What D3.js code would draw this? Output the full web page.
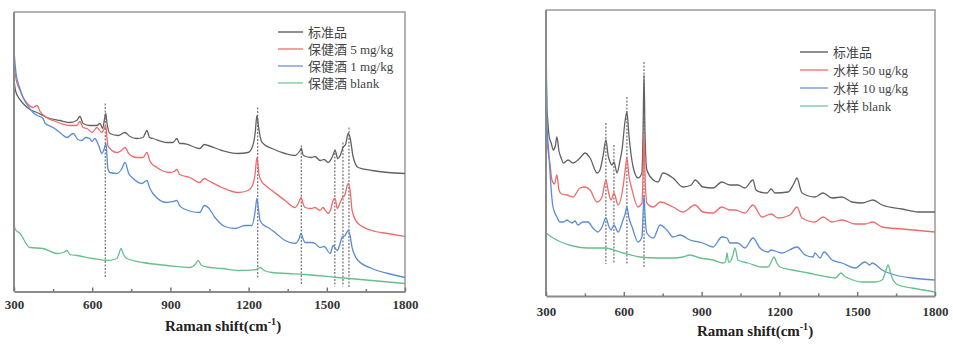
<!DOCTYPE html>
<html><head><meta charset="utf-8">
<script src="https://cdn.jsdelivr.net/npm/d3@7"></script>
<style>
body{margin:0;background:#fff;}
svg{display:block;}
</style></head>
<body>
<svg id="chart" width="953" height="345"></svg>
<script>
// ---------- DATA (Raman shift cm-1, intensity a.u.) ----------
const leftStd = [[300,213],[303,205],[308,199],[315,195],[335,188],[361,182],[388,179],[427,174],[476,171],[515,169],[540,171],[553,175],[565,168],[590,166],[618,166],[630,168],[640,163],[647,172],[652,178],[657,168],[668,158],[700,156],[725,159],[745,155],[771,153],[795,154],[810,161],[820,154],[833,153],[887,149],[910,149],[925,153],[935,148],[949,148],[1013,143],[1030,147],[1045,146],[1098,141],[1159,138],[1198,139],[1215,145],[1225,158],[1232,176],[1238,165],[1248,151],[1260,147],[1290,143],[1340,138],[1378,136],[1395,140],[1402,143],[1410,136],[1440,134],[1455,135],[1474,131],[1490,132],[1505,129],[1520,134],[1532,141],[1542,133],[1553,137],[1562,144],[1572,147],[1582,158],[1590,153],[1600,136],[1620,124],[1673,121],[1735,119],[1800,118]];
const left5 = [[300,230],[304,220],[308,212],[320,203],[335,194],[355,187],[373,184],[388,186],[400,180],[425,174],[450,171],[480,168],[515,166],[540,166],[553,170],[565,164],[580,163],[600,159],[618,164],[637,159],[645,162],[652,166],[660,146],[668,143],[695,139],[712,141],[726,144],[740,138],[771,134],[795,134],[810,139],[822,130],[848,124],[898,119],[915,120],[925,122],[935,117],[975,114],[1013,109],[1030,113],[1045,111],[1098,104],[1159,99],[1198,101],[1215,106],[1225,118],[1232,134],[1240,117],[1250,110],[1265,106],[1290,101],[1340,91],[1378,84],[1394,90],[1401,94],[1410,87],[1416,84],[1440,83],[1455,84],[1474,81],[1485,84],[1505,78],[1515,82],[1524,91],[1532,93],[1540,83],[1550,88],[1558,93],[1570,97],[1582,108],[1590,100],[1597,81],[1620,68],[1673,61],[1735,58],[1800,55]];
const left1 = [[300,241],[304,228],[308,218],[320,205],[335,194],[355,185],[373,179],[390,176],[411,173],[420,168],[450,164],[480,158],[503,154],[527,158],[545,152],[560,151],[575,154],[590,153],[600,150],[610,153],[625,146],[637,138],[645,142],[653,148],[660,123],[668,119],[695,118],[712,122],[726,129],[740,118],[757,113],[790,108],[810,111],[820,104],[833,98],[886,89],[910,90],[925,91],[935,86],[949,83],[1013,79],[1030,86],[1045,84],[1071,74],[1109,65],[1148,63],[1186,66],[1213,66],[1225,80],[1232,93],[1238,82],[1244,71],[1260,66],[1275,64],[1301,59],[1340,51],[1378,48],[1394,53],[1401,58],[1410,52],[1416,49],[1440,49],[1455,48],[1474,44],[1490,45],[1513,38],[1524,46],[1530,44],[1540,41],[1550,47],[1558,54],[1570,56],[1582,61],[1590,55],[1597,44],[1620,31],[1673,23],[1735,18],[1800,14]];
const leftBlank = [[300,68],[305,62],[323,58],[361,44],[411,43],[465,38],[490,39],[503,41],[515,37],[541,36],[603,33],[657,31],[695,33],[703,38],[710,43],[720,37],[733,33],[795,29],[887,26],[975,24],[995,27],[1006,31],[1020,26],[1052,24],[1098,23],[1159,21],[1230,22],[1244,24],[1260,21],[1290,19],[1351,18],[1416,17],[1543,14],[1673,11],[1800,8]];

const rightStd = [[300,236],[303,190],[306,178],[312,160],[320,153],[328,146],[336,150],[342,159],[350,145],[360,137],[367,133],[385,136],[404,133],[431,138],[450,143],[470,138],[497,123],[508,126],[520,140],[531,156],[540,140],[547,134],[554,131],[562,134],[574,123],[585,135],[593,146],[605,175],[612,184],[620,160],[636,129],[655,118],[670,123],[674,160],[678,221],[682,160],[689,126],[714,116],[732,114],[751,123],[790,118],[828,109],[860,111],[875,116],[905,109],[944,108],[978,114],[1009,111],[1040,111],[1067,108],[1098,116],[1110,106],[1125,104],[1152,103],[1168,107],[1183,103],[1233,104],[1255,112],[1268,118],[1280,108],[1287,103],[1337,99],[1368,103],[1403,98],[1441,99],[1480,94],[1519,93],[1561,96],[1596,91],[1673,87],[1735,84],[1800,84]];
const right50 = [[300,173],[306,150],[315,133],[323,116],[333,112],[342,121],[350,106],[360,102],[381,101],[404,99],[431,108],[450,109],[470,106],[497,94],[516,99],[531,116],[540,105],[551,96],[562,103],[578,91],[597,109],[605,125],[612,138],[620,120],[632,106],[655,89],[670,93],[674,120],[678,163],[682,120],[689,93],[714,89],[740,94],[790,89],[828,84],[875,91],[905,84],[944,83],[978,89],[1009,86],[1029,86],[1067,83],[1098,91],[1133,79],[1168,82],[1195,78],[1241,81],[1268,89],[1287,78],[1337,74],[1368,79],[1403,74],[1441,76],[1492,72],[1530,72],[1561,74],[1596,69],[1673,67],[1800,64]];
const right10 = [[300,256],[302,220],[304,173],[310,146],[315,126],[322,100],[327,89],[342,79],[354,74],[368,74],[381,76],[392,74],[400,73],[412,75],[423,71],[443,74],[462,74],[481,68],[500,64],[516,69],[531,78],[542,70],[551,66],[562,71],[578,64],[597,76],[605,82],[612,89],[620,78],[632,69],[655,54],[670,59],[674,80],[678,101],[682,80],[689,63],[714,58],[740,71],[766,66],[790,59],[817,61],[855,56],[905,53],[944,49],[978,59],[998,58],[1009,53],[1040,53],[1067,48],[1098,58],[1125,48],[1156,44],[1168,46],[1210,43],[1268,49],[1299,41],[1330,39],[1337,43],[1357,38],[1372,44],[1403,36],[1441,33],[1492,28],[1530,34],[1549,31],[1557,33],[1596,26],[1646,21],[1711,18],[1800,16]];
const rightBlank = [[300,63],[327,58],[367,53],[404,50],[458,48],[527,48],[597,43],[662,39],[728,38],[790,38],[828,39],[855,41],[894,38],[944,36],[983,33],[992,34],[998,43],[1004,34],[1009,34],[1020,40],[1029,48],[1040,36],[1079,33],[1133,29],[1156,29],[1170,35],[1179,39],[1190,33],[1202,29],[1249,26],[1310,23],[1388,19],[1415,18],[1438,23],[1450,20],[1465,18],[1519,14],[1569,14],[1596,16],[1610,25],[1619,31],[1628,24],[1635,18],[1658,11],[1711,8],[1800,4]];

// marker lines: [shift, top intensity, bottom intensity]
const leftMarkers = [[650,188,14],[1235,184,14],[1402,146,6],[1531,142,5],[1562,149,5],[1585,164,4]];
const rightMarkers = [[531,173,32],[562,151,33],[612,199,31],[678,234,29]];

const leftLabels = ["标准品","保健酒 5 mg/kg","保健酒 1 mg/kg","保健酒 blank"];
const rightLabels = ["标准品","水样 50 ug/kg","水样 10 ug/kg","水样 blank"];
const majorTicks = [300,600,900,1200,1500,1800];
const minorTicks = [450,750,1050,1350,1650];
const xDomain = [300,1800];
const seriesColors = ["#626262","#f06a6a","#5a8cd4","#66bf8e"];
const legendColors = ["#6a6a6a","#f28080","#7aa4dc","#86cfa6"];

// ---------- DRAW ----------
const svg = d3.select("#chart");
const serif = "'Liberation Serif','Noto Sans CJK SC',serif";

function panel(cfg){
  const g = svg.append("g");
  const x = d3.scaleLinear().domain(xDomain).range([cfg.x0,cfg.x1]);
  const y = d3.scaleLinear().domain([0,cfg.ymax]).range([cfg.yB,cfg.yT]);
  g.append("path").attr("d",`M${cfg.x0},${cfg.yT}H${cfg.x1}V${cfg.yB}`)
    .attr("fill","none").attr("stroke","#9a9a9a").attr("stroke-width",1.5);
  g.selectAll(".mk").data(cfg.markers).join("line")
    .attr("x1",d=>x(d[0])).attr("x2",d=>x(d[0]))
    .attr("y1",d=>y(d[1])).attr("y2",d=>y(d[2]))
    .attr("stroke","#555").attr("stroke-width",1).attr("stroke-dasharray","2,1.5");
  const line = d3.line().x(d=>x(d[0])).y(d=>y(d[1])).curve(d3.curveMonotoneX);
  cfg.series.forEach((s,i)=>{
    g.append("path").attr("d",line(s)).attr("fill","none")
      .attr("stroke",seriesColors[i]).attr("stroke-width",1.3).attr("stroke-linejoin","round");
  });
  g.append("line").attr("x1",cfg.x0).attr("x2",cfg.x0).attr("y1",cfg.yT).attr("y2",cfg.yB)
    .attr("stroke","#8a8a8a").attr("stroke-width",2);
  const ax = g.append("g").attr("transform",`translate(0,${cfg.yB})`)
    .call(d3.axisBottom(x).tickValues(majorTicks).tickSizeInner(-4).tickSizeOuter(0).tickPadding(cfg.pad).tickFormat(d3.format("d")));
  ax.select(".domain").attr("stroke","#8a8a8a").attr("stroke-width",2);
  ax.selectAll(".tick line").attr("stroke","#777").attr("stroke-width",1.5);
  ax.selectAll("text").attr("font-family",serif).attr("font-size",13).attr("font-weight","bold").attr("fill","#333");
  const mx = g.append("g").attr("transform",`translate(0,${cfg.yB})`)
    .call(d3.axisBottom(x).tickValues(minorTicks).tickSizeInner(-2.5).tickSizeOuter(0).tickFormat(""));
  mx.select(".domain").remove();
  mx.selectAll(".tick line").attr("stroke","#777").attr("stroke-width",1.5);
  const t = g.append("text").attr("x",cfg.titleX).attr("y",cfg.titleY).attr("text-anchor","middle")
    .attr("font-family",serif).attr("font-size",15).attr("font-weight","bold").attr("fill","#222");
  t.append("tspan").text("Raman shift(cm");
  t.append("tspan").attr("dy",-6).attr("font-size",10).text("-1");
  t.append("tspan").attr("dy",6).text(")");
  const lg = g.append("g");
  cfg.labels.forEach((lab,i)=>{
    const yy = cfg.legY + i*cfg.legStep;
    lg.append("line").attr("x1",cfg.legX).attr("x2",cfg.legX+cfg.legLen).attr("y1",yy).attr("y2",yy)
      .attr("stroke",legendColors[i]).attr("stroke-width",1.5);
    lg.append("text").attr("x",cfg.legX+cfg.legLen+5).attr("y",yy).attr("dy","0.35em")
      .attr("font-family",serif).attr("font-size",13).attr("fill","#444").text(lab);
  });
}

panel({x0:14,x1:405,yT:12,yB:291.5,ymax:279.5,pad:8,series:[leftStd,left5,left1,leftBlank],
  markers:leftMarkers,labels:leftLabels,titleX:223,titleY:331,legX:278,legLen:25,legY:32,legStep:17});
panel({x0:546,x1:935,yT:10,yB:296,ymax:286,pad:11,series:[rightStd,right50,right10,rightBlank],
  markers:rightMarkers,labels:rightLabels,titleX:755,titleY:336,legX:800,legLen:28,legY:52,legStep:18});
</script>
</body></html>
